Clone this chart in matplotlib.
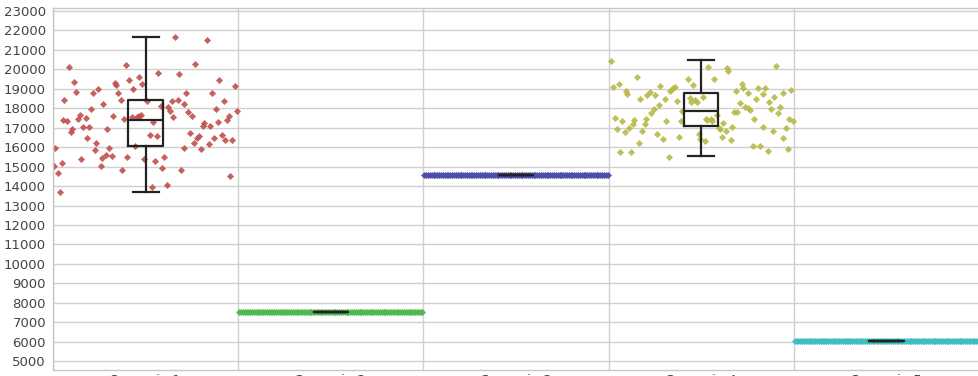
import numpy as np
import matplotlib
matplotlib.use("Agg")
import matplotlib.pyplot as plt

categories = ["Scenario 1", "Scenario 2", "Scenario 3", "Scenario 4", "Scenario 5"]
colors = ["#C0504D", "#4DB84D", "#4B4BAA", "#B8B847", "#3DBDBD"]

# Scenario 1: sampled values and their horizontal jitter within the category
s1_values = [15950, 15040, 14690, 15170, 13680, 18400, 20130, 19330, 18840, 17390,
             17350, 16800, 16920, 17440, 17630, 15410, 17010, 17490, 16460, 17010,
             17970, 18790, 15830, 16200, 18980, 15040, 15430, 18230, 15590, 16920,
             15950, 15520, 17610, 19290, 19210, 18780, 18400, 14830, 17440, 20230,
             15470, 19460, 18980, 16070, 17540, 17540, 17610, 17660, 19630, 19240,
             15380, 18350, 16630, 13970, 17270, 15310, 16580, 19810, 18090, 14920,
             15470, 14060, 18040, 17870, 18350, 17540, 21640, 18400, 19770, 14830,
             18230, 15950, 18780, 17830, 16720, 17580, 16200, 20290, 16460, 16580,
             15900, 17110, 17230, 21520, 16150, 17110, 18780, 16460, 17970, 17270,
             19430, 16630, 18350, 16380, 17610, 14540, 16380, 19150, 17870, 17400]
s1_jitter = [0.011, 0.007, 0.029, 0.047, 0.038, 0.061, 0.086, 0.115, 0.124, 0.056,
             0.074, 0.095, 0.105, 0.137, 0.146, 0.153, 0.164, 0.177, 0.182, 0.196,
             0.204, 0.214, 0.227, 0.232, 0.245, 0.258, 0.263, 0.272, 0.285, 0.290,
             0.305, 0.317, 0.323, 0.335, 0.341, 0.353, 0.366, 0.371, 0.384, 0.395,
             0.402, 0.413, 0.431, 0.443, 0.425, 0.452, 0.463, 0.474, 0.463, 0.479,
             0.492, 0.510, 0.524, 0.533, 0.542, 0.551, 0.564, 0.569, 0.582, 0.591,
             0.600, 0.614, 0.620, 0.632, 0.645, 0.650, 0.659, 0.674, 0.681, 0.692,
             0.705, 0.710, 0.719, 0.728, 0.741, 0.753, 0.759, 0.768, 0.777, 0.787,
             0.800, 0.809, 0.818, 0.831, 0.845, 0.849, 0.861, 0.867, 0.879, 0.890,
             0.897, 0.912, 0.921, 0.930, 0.951, 0.957, 0.969, 0.984, 0.993, 0.942]

# Scenario 4: sampled values and their horizontal jitter within the category
s4_values = [20450, 19080, 19220, 17480, 16940, 17330, 15770, 16780, 18860, 18740,
             16970, 15770, 17400, 17190, 19630, 16200, 18500, 16850, 17190, 17430,
             18690, 18810, 17780, 17960, 18690, 16660, 18170, 19150, 16420, 18500,
             17330, 15510, 18860, 18940, 19060, 19110, 18390, 16510, 17330, 17840,
             19490, 18510, 18340, 19170, 18430, 18340, 16680, 16400, 18600, 16320,
             17470, 17400, 20140, 17470, 17360, 19490, 17640, 16970, 16920, 16540,
             17260, 16850, 20070, 19900, 16370, 17060, 17830, 18870, 17810, 18290,
             19230, 19030, 18080, 18770, 18020, 17910, 16060, 17430, 18480, 19030,
             16060, 18740, 17060, 19030, 15820, 18330, 17950, 16850, 18570, 20180,
             17780, 18080, 16470, 18770, 16990, 15890, 17470, 18940, 17330]
s4_jitter = [0.014, 0.025, 0.056, 0.032, 0.043, 0.074, 0.061, 0.086, 0.092, 0.101,
             0.110, 0.123, 0.137, 0.133, 0.151, 0.164, 0.169, 0.182, 0.195, 0.200,
             0.209, 0.223, 0.231, 0.245, 0.249, 0.259, 0.272, 0.277, 0.292, 0.303,
             0.310, 0.326, 0.332, 0.339, 0.350, 0.357, 0.371, 0.382, 0.389, 0.398,
             0.429, 0.440, 0.447, 0.458, 0.465, 0.479, 0.488, 0.494, 0.512, 0.519,
             0.526, 0.533, 0.539, 0.551, 0.560, 0.569, 0.584, 0.596, 0.602, 0.614,
             0.620, 0.632, 0.638, 0.647, 0.659, 0.668, 0.677, 0.686, 0.695, 0.710,
             0.723, 0.728, 0.735, 0.750, 0.750, 0.764, 0.777, 0.786, 0.796, 0.804,
             0.818, 0.831, 0.836, 0.845, 0.858, 0.867, 0.876, 0.890, 0.894, 0.906,
             0.912, 0.924, 0.939, 0.944, 0.957, 0.966, 0.975, 0.987, 0.998]

# Scenarios 2, 3 and 5 hold a single constant value each
s2_level = 7540
s3_level = 14550
s5_level = 6030
n_constant = 100

# Box-and-whisker summary per scenario
box_whislo = [13700, 7540, 14550, 15530, 6030]
box_q1 = [16050, 7540, 14550, 17070, 6030]
box_med = [17370, 7540, 14550, 17880, 6030]
box_q3 = [18430, 7540, 14550, 18800, 6030]
box_whishi = [21650, 7540, 14550, 20470, 6030]

y_ticks = list(range(5000, 23001, 1000))

fig = plt.figure(figsize=(9.79, 3.76), dpi=100)
ax = fig.add_axes([53 / 979, 6 / 376, 1 - 53 / 979, 1 - 14 / 376])

const_jitter = np.linspace(0.005, 0.995, n_constant)
series = [
    (np.array(s1_jitter), np.array(s1_values)),
    (const_jitter, np.full(n_constant, s2_level)),
    (const_jitter, np.full(n_constant, s3_level)),
    (np.array(s4_jitter), np.array(s4_values)),
    (const_jitter, np.full(n_constant, s5_level)),
]
for i, ((jit, vals), col) in enumerate(zip(series, colors)):
    ax.scatter(i + jit, vals, s=13, marker="D", color=col, linewidths=0,
               alpha=0.9, zorder=2)

stats = []
for i in range(len(categories)):
    stats.append(dict(whislo=box_whislo[i], q1=box_q1[i], med=box_med[i],
                      q3=box_q3[i], whishi=box_whishi[i], fliers=[]))
box_color = "#222222"
line_kw = dict(color=box_color, linewidth=1.6)
ax.bxp(stats, positions=[i + 0.5 for i in range(len(categories))],
       widths=0.185, capwidths=0.14, showfliers=False, manage_ticks=False,
       boxprops=line_kw, whiskerprops=line_kw, capprops=line_kw,
       medianprops=line_kw, zorder=3)

ax.set_xlim(0, len(categories))
ax.set_ylim(4550, 23150)
ax.set_yticks(y_ticks)
ax.set_yticklabels([str(v) for v in y_ticks])
ax.set_xticks([i + 0.5 for i in range(len(categories))])
ax.set_xticklabels(categories)
ax.set_xticks(range(len(categories) + 1), minor=True)

ax.grid(axis="y", which="major", color="#D0D0D0", linewidth=1.0, zorder=0)
ax.grid(axis="x", which="minor", color="#D0D0D0", linewidth=1.0, zorder=0)
ax.set_axisbelow(True)
for side, sp in ax.spines.items():
    sp.set_color("#C8C8C8")
    sp.set_linewidth(1.0)
ax.spines["right"].set_visible(False)

ax.tick_params(axis="both", which="both", length=0, labelsize=9.5,
               labelcolor="#444444")
ax.tick_params(axis="y", pad=5)
ax.tick_params(axis="x", pad=3)

fig.savefig("out.png", dpi=100)
